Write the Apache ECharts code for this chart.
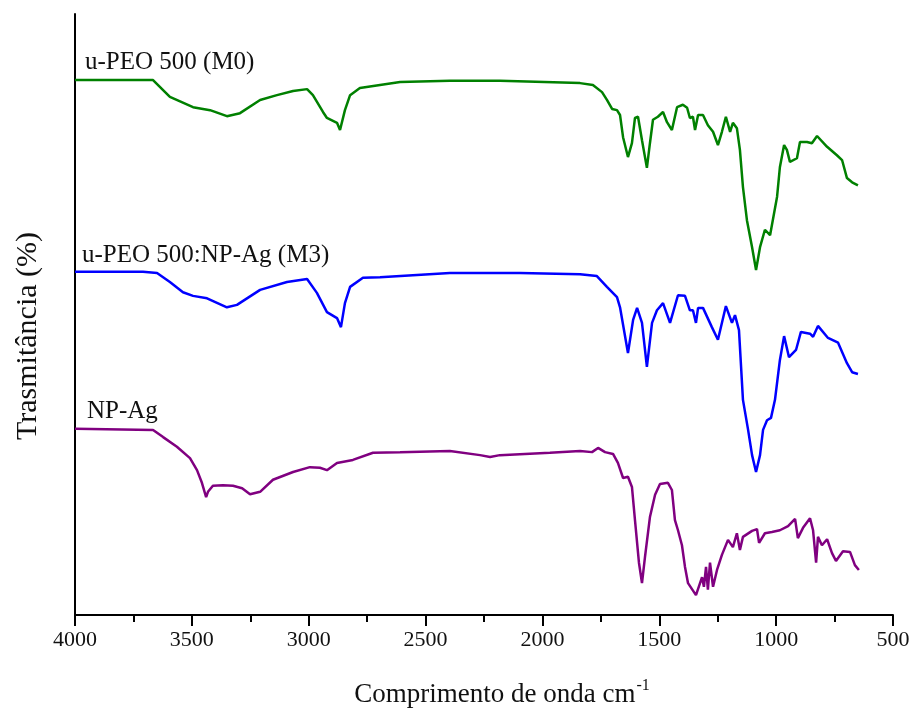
<!DOCTYPE html>
<html>
<head>
<meta charset="utf-8">
<script src="https://cdn.jsdelivr.net/npm/echarts@6/dist/echarts.min.js"></script>
<style>html,body{margin:0;padding:0;background:#fff;}#c{width:914px;height:711px;}</style>
</head>
<body>
<div id="c"></div>
<script>
// Wavenumbers (cm-1) and transmittance (arbitrary %, offset stacked)
var wnM0 = [4000,3666,3594,3495,3422,3350,3294,3208,3136,3067,3007,2982,2939,2922,2879,2866,2845,2823,2781,2609,2396,2182,1839,1784,1745,1724,1702,1681,1668,1655,1634,1617,1604,1591,1574,1553,1540,1527,1506,1484,1467,1446,1424,1399,1381,1369,1356,1347,1334,1313,1292,1270,1249,1232,1215,1197,1185,1168,1155,1142,1125,1103,1086,1069,1048,1026,996,984,966,954,941,911,898,868,847,825,782,740,718,697,675,650];
var tM0 = [89.0,89.0,86.2,84.5,84.0,83.0,83.5,85.7,86.5,87.2,87.5,86.5,83.7,82.7,81.9,80.7,84.0,86.5,87.7,88.7,88.9,88.9,88.5,88.2,87.0,85.7,84.2,84.0,83.2,79.5,76.2,78.5,82.7,82.9,79.0,74.4,78.5,82.4,82.9,83.7,82.0,80.7,84.5,84.9,84.4,82.7,82.9,80.7,83.2,83.2,81.5,80.4,78.2,80.4,82.9,80.4,81.9,81.0,77.4,71.2,65.7,61.2,57.4,61.2,64.1,63.2,69.6,74.5,78.2,77.4,75.4,76.0,78.7,78.7,78.5,79.7,77.9,76.5,75.7,72.7,72.0,71.5];

var wnM3 = [4000,3709,3649,3594,3538,3495,3435,3350,3307,3208,3093,3007,2965,2922,2879,2862,2845,2823,2768,2695,2396,2096,1839,1767,1724,1681,1668,1634,1612,1595,1574,1553,1531,1510,1484,1454,1420,1390,1369,1356,1343,1334,1313,1275,1249,1215,1189,1176,1159,1142,1120,1103,1086,1069,1056,1039,1022,1005,984,966,945,915,894,855,842,821,778,735,697,675,650];
var tM3 = [57.1,57.1,56.9,55.4,53.7,53.1,52.7,51.2,51.6,54.1,55.4,55.9,53.6,50.4,49.4,47.9,51.9,54.6,56.1,56.2,56.9,56.9,56.7,56.4,54.6,52.9,51.2,43.6,49.1,51.1,48.6,41.3,48.6,50.7,51.9,48.6,53.2,53.1,50.7,50.7,48.6,51.1,51.1,47.9,45.8,51.4,48.6,49.9,47.4,35.8,30.8,26.6,23.8,26.6,30.8,32.4,32.8,35.8,42.4,46.4,42.9,44.1,47.1,46.8,46.3,48.1,46.1,45.3,41.9,40.4,40.1];

var wnAg = [4000,3666,3623,3564,3508,3478,3457,3439,3431,3410,3367,3324,3285,3251,3208,3153,3067,2995,2952,2922,2879,2811,2725,2609,2396,2267,2224,2182,1968,1839,1788,1762,1732,1698,1677,1655,1634,1617,1604,1587,1574,1561,1540,1518,1497,1463,1446,1433,1420,1403,1390,1377,1343,1317,1309,1300,1292,1283,1270,1253,1232,1206,1185,1168,1155,1142,1103,1082,1073,1048,1018,984,949,919,907,885,855,842,829,821,804,782,761,744,714,684,663,646];
var tAg = [31.0,30.8,29.6,28.0,26.1,24.1,22.0,19.6,20.5,21.5,21.6,21.5,21.1,20.1,20.5,22.5,23.8,24.6,24.5,24.1,25.3,25.8,27.0,27.1,27.3,26.6,26.3,26.6,27.0,27.3,27.1,27.8,27.1,26.8,25.3,22.8,23.0,21.3,15.8,8.7,5.3,9.7,16.3,20.0,21.8,22.0,20.8,15.8,14.1,11.6,8.0,5.3,3.3,6.3,4.7,8.0,4.2,8.7,4.7,7.5,10.0,12.5,11.3,13.6,10.8,13.0,14.0,14.3,12.0,13.6,13.8,14.1,14.8,16.0,12.8,14.5,16.1,14.1,8.7,13.0,11.6,12.6,10.3,9.0,10.6,10.5,8.3,7.5];

var seriesNames = ['u-PEO 500 (M0)', 'u-PEO 500:NP-Ag (M3)', 'NP-Ag'];
var xTicks = [4000,3500,3000,2500,2000,1500,1000,500];

function pairs(xs, ys){ var o=[]; for(var i=0;i<xs.length;i++) o.push([xs[i], ys[i]]); return o; }

var chart = echarts.init(document.getElementById('c'), null, {renderer:'canvas'});
var font = '"Liberation Serif","Times New Roman",serif';
chart.setOption({
  animation:false,
  backgroundColor:'#fff',
  grid:{left:75, right:21, top:14, bottom:96},
  xAxis:{
    type:'value', min:500, max:4000, interval:500, inverse:true,
    axisLine:{show:true, onZero:false, lineStyle:{color:'#000', width:2}},
    axisTick:{show:true, length:11, lineStyle:{color:'#000', width:2}},
    minorTick:{show:true, splitNumber:2, length:7, lineStyle:{color:'#000', width:2}},
    splitLine:{show:false},
    axisLabel:{color:'#111', fontFamily:font, fontSize:22, margin:14, showMinLabel:true, showMaxLabel:true,
      formatter:function(v){ return xTicks.indexOf(v)>=0 ? String(v) : ''; }}
  },
  yAxis:{
    type:'value', min:0, max:100,
    axisLine:{show:true, lineStyle:{color:'#000', width:2}},
    axisTick:{show:false}, axisLabel:{show:false}, splitLine:{show:false}
  },
  series:[
    {name:seriesNames[0], type:'line', data:pairs(wnM0,tM0), showSymbol:false, lineStyle:{color:'#008000', width:2.5}, itemStyle:{color:'#008000'}},
    {name:seriesNames[1], type:'line', data:pairs(wnM3,tM3), showSymbol:false, lineStyle:{color:'#0000ff', width:2.5}, itemStyle:{color:'#0000ff'}},
    {name:seriesNames[2], type:'line', data:pairs(wnAg,tAg), showSymbol:false, lineStyle:{color:'#800080', width:2.5}, itemStyle:{color:'#800080'}}
  ],
  graphic:[
    {type:'text', left:85, top:50, style:{text:seriesNames[0], font:'25px '+font, fill:'#111'}},
    {type:'text', left:82, top:243, style:{text:seriesNames[1], font:'25px '+font, fill:'#111'}},
    {type:'text', left:87, top:399, style:{text:seriesNames[2], font:'25px '+font, fill:'#111'}},
    {type:'text', x:28, y:336, rotation:Math.PI/2, style:{text:'Trasmitância (%)', font:'30px '+font, fill:'#111', align:'center', verticalAlign:'middle'}},
    {type:'text', x:502, y:693, style:{text:'{a|Comprimento de onda cm}{s|-1}', align:'center', verticalAlign:'middle',
      rich:{a:{fontFamily:font, fontSize:27, fill:'#111', color:'#111', lineHeight:30, verticalAlign:'bottom'},
            s:{fontFamily:font, fontSize:16, fill:'#111', color:'#111', lineHeight:30, verticalAlign:'top', padding:[0,0,12,1]}}}}
  ]
});
</script>
</body>
</html>
